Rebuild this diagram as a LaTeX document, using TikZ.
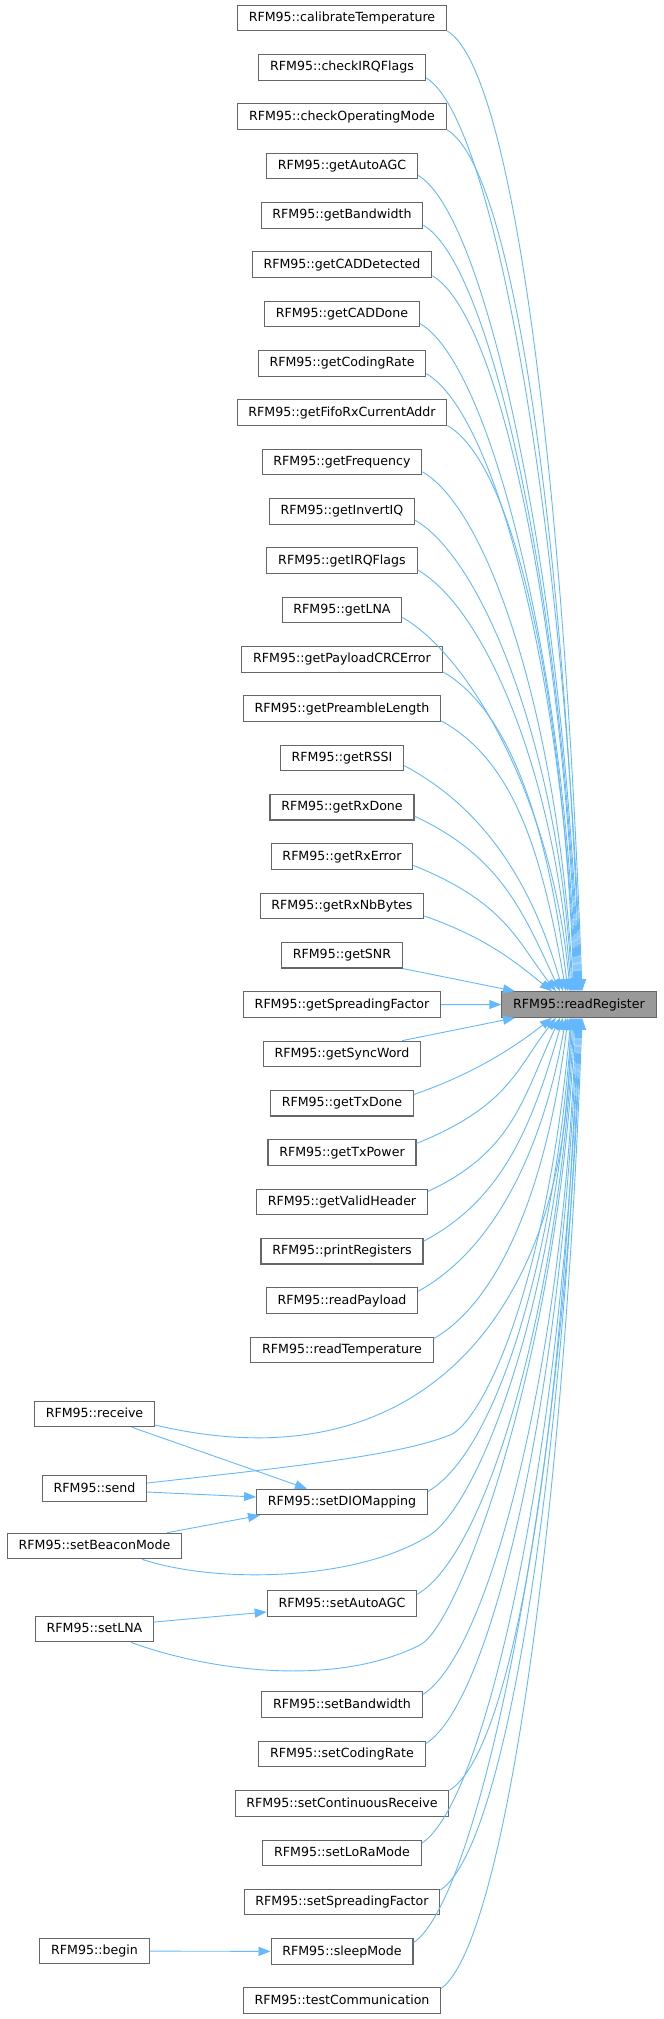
\documentclass[tikz,border=0pt]{standalone}
\usepackage{fontspec}
\newfontfamily\fnfont{DejaVu Sans}
\usetikzlibrary{arrows.meta}
\definecolor{edgec}{HTML}{63B8FF}
\definecolor{bordc}{HTML}{666666}
\definecolor{hlc}{HTML}{999999}
\begin{document}
\begin{tikzpicture}[x=1pt,y=1pt,
  fn/.style={draw=bordc, line width=1.1pt, fill=white,
    font=\fnfont\fontsize{12.6pt}{15pt}\selectfont,
    inner xsep=11.3pt, inner ysep=0pt, minimum height=25.5pt,
    text height=9.5pt, text depth=2.5pt},
  hl/.style={fn, fill=hlc},
  edge/.style={draw=edgec, line width=0.9pt, -{Triangle[length=12pt,width=9pt]}}]
\useasboundingbox (0,0) rectangle (664,-2019);

% target
\node[hl] (rr) at (579,-1004.5) {RFM95::readRegister};

% middle column, upper group
\foreach \k/\lab in {0/calibrateTemperature, 1/checkIRQFlags, 2/checkOperatingMode,
  3/getAutoAGC, 4/getBandwidth, 5/getCADDetected, 6/getCADDone, 7/getCodingRate,
  8/getFifoRxCurrentAddr, 9/getFrequency, 10/getInvertIQ, 11/getIRQFlags, 12/getLNA,
  13/getPayloadCRCError, 14/getPreambleLength, 15/getRSSI, 16/getRxDone, 17/getRxError,
  18/getRxNbBytes, 19/getSNR, 20/getSpreadingFactor, 21/getSyncWord, 22/getTxDone,
  23/getTxPower, 24/getValidHeader, 25/printRegisters, 26/readPayload, 27/readTemperature}
  \node[fn] (n\k) at (342,{-18-49.33*\k}) {RFM95::\lab};

% left column
\node[fn] (receive) at (94.5,-1414) {RFM95::receive};
\node[fn] (send) at (94.5,-1488.5) {RFM95::send};
\node[fn] (beacon) at (94.5,-1546) {RFM95::setBeaconMode};
\node[fn] (lna) at (94.5,-1629) {RFM95::setLNA};
\node[fn] (begin) at (94.5,-1951) {RFM95::begin};

% middle column, lower group
\node[fn] (dio) at (342,-1502) {RFM95::setDIOMapping};
\node[fn] (agc) at (342,-1603.5) {RFM95::setAutoAGC};
\node[fn] (sbw) at (342,-1704.5) {RFM95::setBandwidth};
\node[fn] (scr) at (342,-1754) {RFM95::setCodingRate};
\node[fn] (scont) at (342,-1803.5) {RFM95::setContinuousReceive};
\node[fn] (slora) at (342,-1853) {RFM95::setLoRaMode};
\node[fn] (ssf) at (342,-1902) {RFM95::setSpreadingFactor};
\node[fn] (sleep) at (342,-1951.5) {RFM95::sleepMode};
\node[fn] (test) at (342,-2000.5) {RFM95::testCommunication};

% edges from above into the top of readRegister
\foreach \k/\oa/\od/\ia/\id/\ex in {0/-30/80/92/483/3, 1/-30/80/92/458/2,
  2/-30/80/92/434/1, 3/-30/80/92/409/0, 4/-30/80/92/384/-1, 5/-30/80/92/360/-2,
  6/-30/80/92/335/-3, 7/-30/80/92/310/-4, 8/-30/80/92/286/-5, 9/-30/80/93/261/-6,
  10/-30/80/93/236/-7, 11/-30/80/94/212/-8, 12/-30/80/95/187/-9, 13/-30/80/97/162/-11,
  14/-29/85/100/138/-13, 15/-28/90/106/113/-16, 16/-25/95/115/88/-19,
  17/-22/100/128/64/-23, 18/-19/70/142/39/-27}
  \draw[edge] (n\k.-7) to[out=\oa, in=\ia, out distance=\od pt, in distance=\id pt] ([xshift=\ex pt]rr.north);

\draw[edge] (n19.south east) -- ([xshift=-64pt]rr.north);
\draw[edge] (n20) -- (rr);
\draw[edge] ([xshift=-19pt]n21.north east) -- ([xshift=-64pt]rr.south);

% edges from below into the bottom of readRegister
\foreach \n/\oa/\od/\ia/\id/\ex in {n22/19/70/218/39/-27, n23/22/100/232/64/-23,
  n24/25/95/245/88/-19, n25/28/90/254/113/-16, n26/29/85/260/138/-13,
  n27/30/80/263/162/-11, dio/30/80/266/237/-7, agc/30/80/267/289/-5,
  sbw/32/80/268/340/-3, scr/32/80/268/364/-2, scont/32/80/268/387/-1,
  slora/33/80/268/414/0, ssf/33/80/268/438/1, sleep/34/80/268/463/2,
  test/36/80/268/485/3}
  \draw[edge] (\n.7) to[out=\oa, in=\ia, out distance=\od pt, in distance=\id pt] ([xshift=\ex pt]rr.south);

% long edges from the left column into readRegister
\draw[edge] ([yshift=-11pt]receive.east) .. controls (430,-1490) and (572,-1300) .. ([xshift=-9pt]rr.south);
\draw[edge] ([yshift=5.5pt]send.east) .. controls (300,-1466) and (400,-1455) .. (450,-1435)
  .. controls (480,-1423) and (545,-1300) .. ([xshift=-8pt]rr.south);
\draw[edge] ([xshift=47.5pt]beacon.south) .. controls (220,-1585) and (360,-1580) .. (430,-1535)
  .. controls (475,-1506) and (555,-1320) .. ([xshift=-6pt]rr.south);
\draw[edge] ([xshift=36.5pt]lna.south) .. controls (200,-1668) and (330,-1690) .. (420,-1645)
  .. controls (460,-1625) and (560,-1350) .. ([xshift=-4pt]rr.south);

% short edges between columns
\draw[edge] ([xshift=37.5pt]receive.south) -- ([xshift=-35pt]dio.north);
\draw[edge] ([yshift=-3.5pt]send.east) -- ([yshift=5pt]dio.west);
\draw[edge] ([xshift=72.5pt]beacon.north) -- ([xshift=-82pt]dio.south);
\draw[edge] ([yshift=7pt]lna.east) -- ([yshift=-8.5pt]agc.west);
\draw[edge] (begin) -- (sleep);
\end{tikzpicture}
\end{document}
